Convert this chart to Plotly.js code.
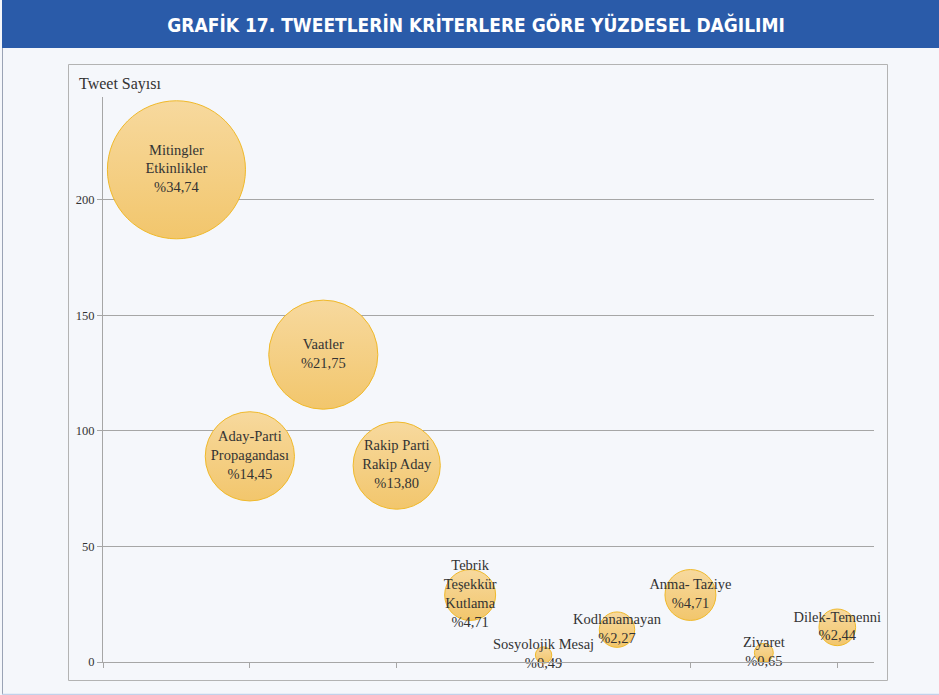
<!DOCTYPE html>
<html>
<head>
<meta charset="utf-8">
<script src="https://cdn.plot.ly/plotly-3.0.1.min.js"></script>
<style>
  html, body { margin: 0; padding: 0; background: #f5f7fb; }
  #chart { width: 939px; height: 695px; }
</style>
</head>
<body>
<div id="chart"></div>
<script>
// categories, positions on the x scale, tweet counts and percentage labels
var labels = ['Mitingler<br>Etkinlikler', 'Aday-Parti<br>Propagandası', 'Vaatler', 'Rakip Parti<br>Rakip Aday',
    'Tebrik<br>Teşekkür<br>Kutlama', 'Sosyolojik Mesaj', 'Kodlanamayan', 'Anma- Taziye', 'Ziyaret', 'Dilek-Temenni']
var xs = [1, 2, 3, 4, 5, 6, 7, 8, 9, 10]
var counts = [213, 89, 133, 85, 29, 3, 14, 29, 4, 15]
var percents = ['%34,74', '%14,45', '%21,75', '%13,80', '%4,71', '%0,49', '%2,27', '%4,71', '%0,65', '%2,44']
var yticks = [0, 50, 100, 150, 200]

var texts = labels.map(function (l, i) { return l + '<br>' + percents[i] })

var serif = 'Liberation Serif, Times New Roman, serif'
var grey = '#a6a6a6'

var trace = {
    type: 'scatter',
    mode: 'markers+text',
    x: xs,
    y: counts,
    text: texts,
    textposition: 'middle center',
    textfont: { family: serif, size: 14.5, color: '#333333' },
    cliponaxis: false,
    hoverinfo: 'none',
    marker: {
        size: counts,
        sizemode: 'area',
        sizeref: 0.02235,
        color: '#f7d99e',
        gradient: { type: 'vertical', color: '#f2c66c' },
        line: { color: '#f0b92a', width: 1 },
        opacity: 1
    }
}

// pixel helpers for the decoration shapes (plot area 103..874 x 97..662)
function px(x) { return (x - 103) / 771 }
function py(y) { return (662 - y) / 565 }

var layout = {
    width: 939,
    height: 695,
    margin: { l: 103, r: 65, t: 97, b: 33 },
    paper_bgcolor: '#f5f7fb',
    plot_bgcolor: '#f5f7fb',
    showlegend: false,
    title: {
        text: '<b>GRAFİK 17. TWEETLERİN KRİTERLERE GÖRE YÜZDESEL DAĞILIMI</b>',
        font: { family: 'DejaVu Sans Condensed, Liberation Sans Narrow, Arial Narrow, sans-serif', size: 19, color: '#ffffff' },
        xref: 'container', x: 0.507, xanchor: 'center',
        yref: 'container', y: 1 - 25 / 695, yanchor: 'middle'
    },
    xaxis: {
        range: [0, 10.5],
        tickvals: [0, 2, 4, 6, 8, 10],
        showticklabels: false,
        ticks: 'outside', ticklen: 5, tickcolor: grey,
        showline: true, linecolor: grey, linewidth: 1,
        showgrid: false, zeroline: false, fixedrange: true
    },
    yaxis: {
        range: [0, 244.5],
        tickvals: yticks,
        ticks: 'outside', ticklen: 5, tickcolor: grey,
        tickfont: { family: serif, size: 12.5, color: '#333333' },
        showline: true, linecolor: grey, linewidth: 1,
        showgrid: true, gridcolor: grey, gridwidth: 1,
        zeroline: false, fixedrange: true
    },
    annotations: [{
        text: 'Tweet Sayısı',
        xref: 'paper', yref: 'paper',
        x: px(77), y: py(84), xanchor: 'left', yanchor: 'middle',
        showarrow: false,
        font: { family: serif, size: 16, color: '#333333' }
    }],
    shapes: [
        // blue title bar
        { type: 'rect', xref: 'paper', yref: 'paper', x0: px(2), x1: px(945), y0: py(48), y1: py(-5),
          fillcolor: '#2a5ba9', line: { width: 0 }, layer: 'below' },
        // chart frame
        { type: 'rect', xref: 'paper', yref: 'paper', x0: px(68.5), x1: px(887.5), y0: py(680.5), y1: py(64.5),
          fillcolor: 'rgba(0,0,0,0)', line: { color: '#b3b3b3', width: 1 }, layer: 'below' },
        // page border left and bottom
        { type: 'line', xref: 'paper', yref: 'paper', x0: px(2.5), x1: px(2.5), y0: py(48), y1: py(700),
          line: { color: '#9aa3b5', width: 1 } },
        { type: 'line', xref: 'paper', yref: 'paper', x0: px(2), x1: px(945), y0: py(694.5), y1: py(694.5),
          line: { color: '#c3d1ea', width: 1.5 } }
    ]
}

var config = { responsive: false, displayModeBar: false, staticPlot: true }

Plotly.newPlot('chart', [trace], layout, config)
</script>
</body>
</html>
